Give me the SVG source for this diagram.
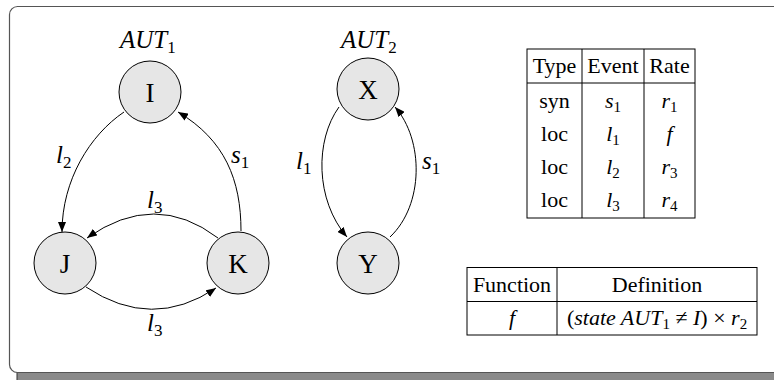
<svg xmlns="http://www.w3.org/2000/svg" width="774" height="380" viewBox="0 0 774 380">
<defs>
<marker id="arr" viewBox="0 0 10 8" refX="10" refY="4" markerWidth="10" markerHeight="8" markerUnits="userSpaceOnUse" orient="auto">
<path d="M0,0 L10,4 L0,8 z" fill="#000"/>
</marker>
</defs>
<style>
.node{fill:#e6e6e6;stroke:#000;stroke-width:1}
.nl{font-family:"Liberation Serif","Times New Roman",serif;font-size:27px;text-anchor:middle;fill:#000}
.it{font-family:"Liberation Serif","Times New Roman",serif;font-style:italic;font-size:25px;fill:#000}
.sub{font-size:17px;font-style:normal}
.edge{fill:none;stroke:#000;stroke-width:1;marker-end:url(#arr)}
.tb{fill:none;stroke:#000;stroke-width:1}
.tt{font-family:"Liberation Serif","Times New Roman",serif;font-size:22px;text-anchor:middle;fill:#000}
.ti{font-style:italic}
.ts{font-size:15px}
</style>
<rect x="17" y="360" width="800" height="30" fill="#8a8a8a" stroke="#333" stroke-width="1"/>
<rect x="9.5" y="6.5" width="800" height="366" rx="8" fill="#fff" stroke="#555" stroke-width="1.2"/>

<g id="title1"><text class="it" x="120" y="48">AUT<tspan class="sub" dy="5">1</tspan></text></g>
<g id="title2"><text class="it" x="341" y="48">AUT<tspan class="sub" dy="5">2</tspan></text></g>

<g id="connectors">
<path class="edge" d="M124,112 C90,135 62,180 62,232"/>
<path class="edge" d="M241,231 C241,180 225,140 178,112"/>
<path class="edge" d="M218,238 Q155,190 87,238"/>
<path class="edge" d="M86,287 Q152,331 216,288"/>
<path class="edge" d="M339,107 C315,140 315,200 347,237"/>
<path class="edge" d="M390,237 C424,205 424,140 395,107"/>
<text class="it" x="56" y="163">l<tspan class="sub" dy="5">2</tspan></text>
<text class="it" x="231" y="163">s<tspan class="sub" dy="5">1</tspan></text>
<text class="it" x="147" y="208">l<tspan class="sub" dy="5">3</tspan></text>
<text class="it" x="147" y="331">l<tspan class="sub" dy="5">3</tspan></text>
<text class="it" x="296" y="169">l<tspan class="sub" dy="5">1</tspan></text>
<text class="it" x="422" y="169">s<tspan class="sub" dy="5">1</tspan></text>
</g>

<g id="node-I"><circle class="node" cx="150" cy="92" r="31"/><text class="nl" x="150" y="101.5">I</text></g>
<g id="node-J"><circle class="node" cx="65" cy="263" r="31"/><text class="nl" x="65" y="272.5">J</text></g>
<g id="node-K"><circle class="node" cx="238" cy="263" r="31"/><text class="nl" x="238" y="272.5">K</text></g>
<g id="node-X"><circle class="node" cx="368" cy="89" r="31"/><text class="nl" x="368" y="98.5">X</text></g>
<g id="node-Y"><circle class="node" cx="368" cy="263" r="31"/><text class="nl" x="368" y="272.5">Y</text></g>

<g id="table-events">
<rect class="tb" x="527" y="49" width="168" height="169"/>
<line class="tb" x1="527" y1="83" x2="695" y2="83"/>
<line class="tb" x1="582" y1="49" x2="582" y2="218"/>
<line class="tb" x1="644" y1="49" x2="644" y2="218"/>
<text class="tt" x="554.5" y="73">Type</text>
<text class="tt" x="613" y="73">Event</text>
<text class="tt" x="669.5" y="73">Rate</text>
<text class="tt" x="554.5" y="108">syn</text>
<text class="tt" x="554.5" y="141">loc</text>
<text class="tt" x="554.5" y="174">loc</text>
<text class="tt" x="554.5" y="207">loc</text>
<text class="tt" x="613" y="108"><tspan class="ti">s</tspan><tspan class="ts" dy="4">1</tspan></text>
<text class="tt" x="613" y="141"><tspan class="ti">l</tspan><tspan class="ts" dy="4">1</tspan></text>
<text class="tt" x="613" y="174"><tspan class="ti">l</tspan><tspan class="ts" dy="4">2</tspan></text>
<text class="tt" x="613" y="207"><tspan class="ti">l</tspan><tspan class="ts" dy="4">3</tspan></text>
<text class="tt" x="669.5" y="108"><tspan class="ti">r</tspan><tspan class="ts" dy="4">1</tspan></text>
<text class="tt ti" x="669.5" y="141">f</text>
<text class="tt" x="669.5" y="174"><tspan class="ti">r</tspan><tspan class="ts" dy="4">3</tspan></text>
<text class="tt" x="669.5" y="207"><tspan class="ti">r</tspan><tspan class="ts" dy="4">4</tspan></text>
</g>

<g id="table-functions">
<rect class="tb" x="467" y="267.5" width="290" height="67.5"/>
<line class="tb" x1="467" y1="301.5" x2="757" y2="301.5"/>
<line class="tb" x1="557" y1="267.5" x2="557" y2="335"/>
<text class="tt" x="512" y="292">Function</text>
<text class="tt" x="657" y="292">Definition</text>
<text class="tt ti" x="512" y="325">f</text>
<text class="tt" x="657" y="325">(<tspan class="ti">state AUT</tspan><tspan class="ts" dy="4">1</tspan><tspan dy="-4"> ≠ </tspan><tspan class="ti">I</tspan>) × <tspan class="ti">r</tspan><tspan class="ts" dy="4">2</tspan></text>
</g>
</svg>
